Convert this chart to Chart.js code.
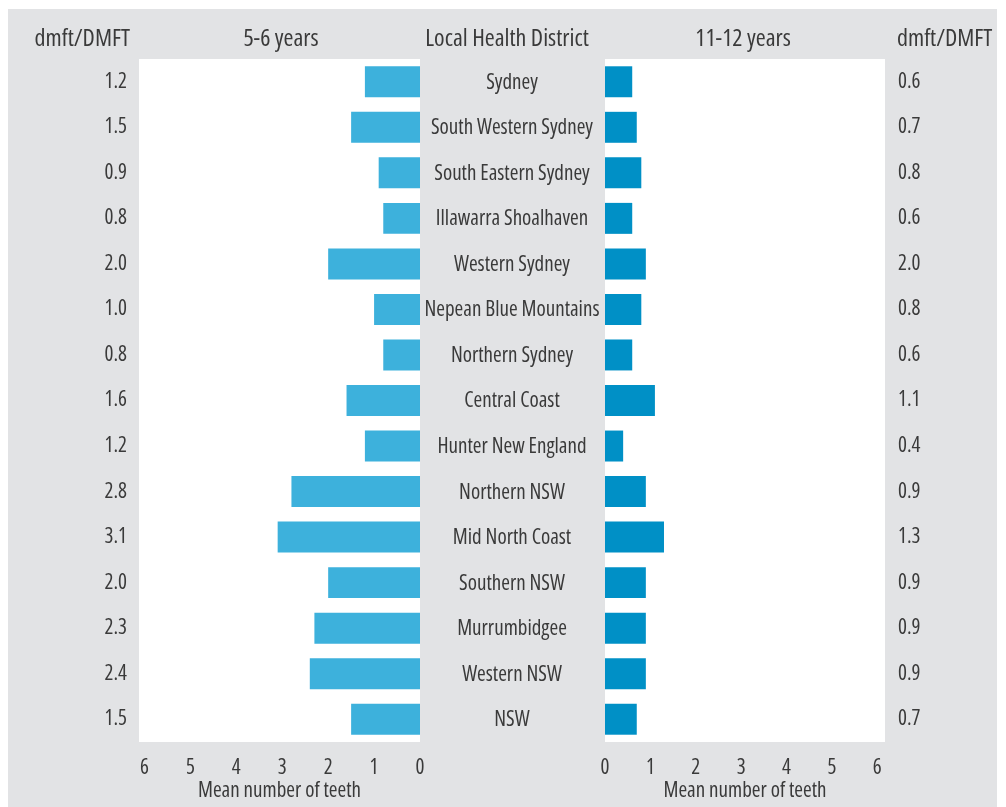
<!DOCTYPE html>
<html>
<head>
<meta charset="utf-8">
<script src="https://cdn.jsdelivr.net/npm/chart.js@4/dist/chart.umd.min.js"></script>
<style>
  body { margin: 0; background: #ffffff; }
  #wrap { position: relative; width: 1006px; height: 807px; }
  #bg { position: absolute; left: 8px; top: 9px; width: 989px; height: 798px; background: #e2e3e5; }
  #left { position: absolute; left: 0; top: 0; z-index: 2; }
  #right { position: absolute; left: 560px; top: 0; z-index: 1; }
</style>
</head>
<body>
<div id="wrap">
  <div id="bg"></div>
  <canvas id="left" width="605" height="807"></canvas>
  <canvas id="right" width="437" height="807"></canvas>
</div>
<script>
const districts = [
  "Sydney", "South Western Sydney", "South Eastern Sydney", "Illawarra Shoalhaven",
  "Western Sydney", "Nepean Blue Mountains", "Northern Sydney", "Central Coast",
  "Hunter New England", "Northern NSW", "Mid North Coast", "Southern NSW",
  "Murrumbidgee", "Western NSW", "NSW"
]

// mean number of teeth
const teeth56 = [1.2, 1.5, 0.9, 0.8, 2.0, 1.0, 0.8, 1.6, 1.2, 2.8, 3.1, 2.0, 2.3, 2.4, 1.5]
const teeth1112 = [0.6, 0.7, 0.8, 0.6, 0.9, 0.8, 0.6, 1.1, 0.4, 0.9, 1.3, 0.9, 0.9, 0.9, 0.7]

// dmft/DMFT columns as printed
const dmft56 = ["1.2", "1.5", "0.9", "0.8", "2.0", "1.0", "0.8", "1.6", "1.2", "2.8", "3.1", "2.0", "2.3", "2.4", "1.5"]
const dmft1112 = ["0.6", "0.7", "0.8", "0.6", "2.0", "0.8", "0.6", "1.1", "0.4", "0.9", "1.3", "0.9", "0.9", "0.9", "0.7"]

const FAMILY = "'Open Sans', sans-serif"
const TEXT = "#3a3a3a"
// chart.js has no font-stretch option, so it rides along in the weight slot
const font = { family: FAMILY, size: 21, weight: "370 condensed" }
const LABELFONT = "normal 370 condensed 21px " + FAMILY
const HEADFONT = "normal 370 condensed 24px " + FAMILY

// white plot area behind the bars
const whiteArea = {
  id: "whiteArea",
  beforeDraw(chart) {
    const a = chart.chartArea
    const ctx = chart.ctx
    ctx.save()
    ctx.fillStyle = "#ffffff"
    ctx.fillRect(a.left, a.top, a.right - a.left, a.bottom - a.top)
    ctx.restore()
  }
}

// column headers and district names
const textLayer = {
  id: "textLayer",
  afterDraw(chart, args, opts) {
    const ctx = chart.ctx
    ctx.save()
    ctx.font = HEADFONT
    ctx.fillStyle = TEXT
    ctx.textBaseline = "alphabetic"
    opts.headers.forEach(h => {
      ctx.textAlign = h.align
      ctx.fillText(h.text, h.x, 46)
    })
    if (opts.names) {
      const y = chart.scales.y
      ctx.font = LABELFONT
      ctx.textAlign = "center"
      ctx.textBaseline = "middle"
      opts.names.forEach((n, i) => {
        ctx.fillText(n, opts.namesX, y.getPixelForValue(i) + 1)
      })
    }
    ctx.restore()
  }
}

function xScale(reverse, max) {
  return {
    type: "linear",
    reverse: reverse,
    min: 0,
    max: max,
    grid: { display: false, drawTicks: false },
    border: { display: false },
    ticks: { stepSize: 1, includeBounds: false, font: font, color: TEXT, padding: 13, maxRotation: 0 },
    title: {
      display: true,
      text: "Mean number of teeth",
      font: font,
      color: TEXT,
      padding: { top: 0, bottom: 3 }
    },
    afterFit(s) { s.height = 65 }
  }
}

const leftChart = new Chart(document.getElementById("left"), {
  type: "bar",
  data: {
    labels: districts,
    datasets: [{
      data: teeth56,
      backgroundColor: "#3db1dc",
      barPercentage: 0.68,
      categoryPercentage: 1.0
    }]
  },
  options: {
    indexAxis: "y",
    responsive: false,
    animation: false,
    layout: { padding: { left: 0, right: 185, top: 59, bottom: 0 } },
    plugins: {
      legend: { display: false },
      tooltip: { enabled: false },
      textLayer: {
        headers: [
          { text: "dmft/DMFT", x: 130, align: "right" },
          { text: "5-6 years", x: 281, align: "center" },
          { text: "Local Health District", x: 507, align: "center" }
        ],
        names: districts,
        namesX: 512
      }
    },
    scales: {
      x: xScale(true, 6.12),
      y: {
        type: "category",
        position: "left",
        grid: { display: false, drawTicks: false },
        border: { display: false },
        ticks: {
          font: font,
          color: TEXT,
          padding: 12,
          callback: (v, i) => dmft56[i]
        },
        afterFit(s) { s.width = 139 }
      }
    }
  },
  plugins: [whiteArea, textLayer]
})

const rightChart = new Chart(document.getElementById("right"), {
  type: "bar",
  data: {
    labels: districts,
    datasets: [{
      data: teeth1112,
      backgroundColor: "#0090c6",
      barPercentage: 0.68,
      categoryPercentage: 1.0
    }]
  },
  options: {
    indexAxis: "y",
    responsive: false,
    animation: false,
    layout: { padding: { left: 45, right: 0, top: 59, bottom: 0 } },
    plugins: {
      legend: { display: false },
      tooltip: { enabled: false },
      textLayer: {
        headers: [
          { text: "11-12 years", x: 743 - 560, align: "center" },
          { text: "dmft/DMFT", x: 897 - 560, align: "left" }
        ]
      }
    },
    scales: {
      x: xScale(false, 6.17),
      y: {
        type: "category",
        position: "right",
        grid: { display: false, drawTicks: false },
        border: { display: false },
        ticks: {
          font: font,
          color: TEXT,
          padding: 13,
          crossAlign: "near",
          callback: (v, i) => dmft1112[i]
        },
        afterFit(s) { s.width = 112 }
      }
    }
  },
  plugins: [whiteArea, textLayer]
})
</script>
</body>
</html>
